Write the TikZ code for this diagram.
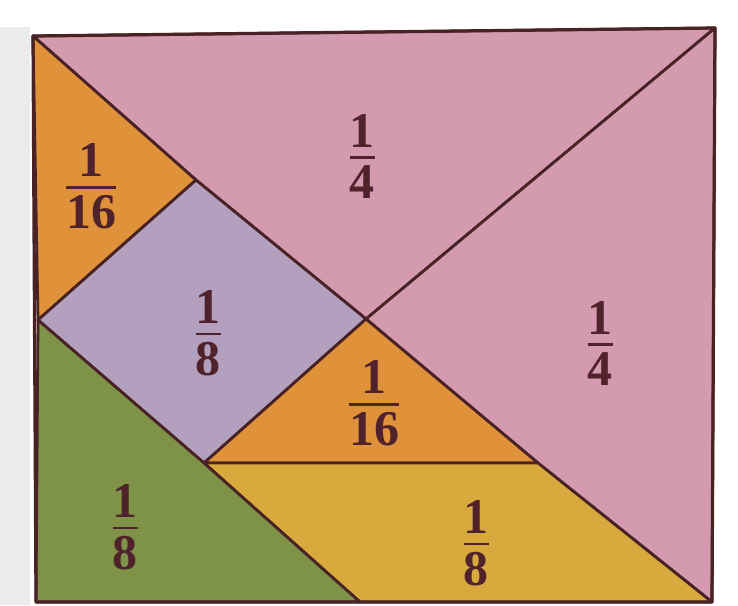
\documentclass[tikz,border=0pt]{standalone}
\usepackage{amsmath}
\usepackage{fontspec}
\setmainfont{Liberation Serif}

\definecolor{tanpink}{RGB}{212,154,176}
\definecolor{tanorange}{RGB}{224,146,58}
\definecolor{tanpurple}{RGB}{178,160,190}
\definecolor{tangreen}{RGB}{126,146,72}
\definecolor{tanyellow}{RGB}{216,170,62}
\definecolor{tanline}{RGB}{72,34,36}
\definecolor{tantext}{RGB}{80,34,44}

\newcommand{\frc}[2]{\ensuremath{\genfrac{}{}{2.4pt}{0}{\textbf{#1}\vphantom{\rule{0pt}{0.8em}}}{\textbf{#2}}}}

\begin{document}
\begin{tikzpicture}[x=1pt, y=-1pt, line join=round,
  piece/.style={fill=#1, draw=tanline, line width=2.8pt},
  part/.style={text=tantext, font=\fontsize{50}{56}\selectfont}]
\useasboundingbox (0,0) rectangle (738,605);
\fill[white] (0,0) rectangle (738,605);
\fill[black!8] (0,27) rectangle (30,605);
% corners and inner points
\coordinate (tl) at (33,36);
\coordinate (tr) at (715,28);
\coordinate (br) at (712,602);
\coordinate (bl) at (36,602);
\coordinate (c) at (366,319);
\coordinate (p) at (196,180);
\coordinate (l) at (38,320);
\coordinate (q) at (204,463);
\coordinate (r) at (538,463);
\coordinate (d) at (360,602);
% pieces
\draw[piece=tanpink] (tl) -- (tr) -- (c) -- (p) -- cycle;
\draw[piece=tanpink] (tr) -- (br) -- (r) -- (c) -- cycle;
\draw[piece=tanorange] (tl) -- (p) -- (l) -- cycle;
\draw[piece=tanpurple] (l) -- (p) -- (c) -- (q) -- cycle;
\draw[piece=tanorange] (q) -- (c) -- (r) -- cycle;
\draw[piece=tanyellow] (q) -- (r) -- (br) -- (d) -- cycle;
\draw[piece=tangreen] (l) -- (q) -- (d) -- (bl) -- cycle;
\draw[tanline, line width=3.2pt] (tl) -- (tr) -- (br) -- (bl) -- cycle;
% labels
\node[part] (quarter1) at (362,153) {\frc{1}{4}};
\node[part] (quarter2) at (600,340) {\frc{1}{4}};
\node[part] (sixteenth1) at (91,183) {\frc{1}{16}};
\node[part] (sixteenth2) at (374,400) {\frc{1}{16}};
\node[part] (eighth1) at (208,330) {\frc{1}{8}};
\node[part] (eighth2) at (125,524) {\frc{1}{8}};
\node[part] (eighth3) at (476,540) {\frc{1}{8}};
\end{tikzpicture}
\end{document}
